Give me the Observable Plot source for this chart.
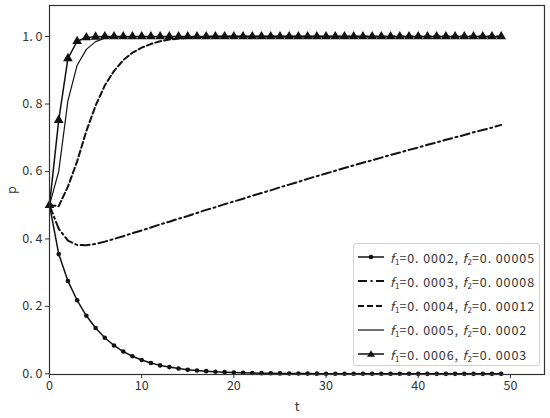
<!DOCTYPE html>
<html>
<head>
<meta charset="utf-8">
<script src="https://cdn.jsdelivr.net/npm/d3@7"></script>
<script src="https://cdn.jsdelivr.net/npm/@observablehq/plot@0.6"></script>
<style>
  html, body { margin: 0; padding: 0; background: #fff; }
  #wrap { position: relative; width: 550px; height: 418px; font-family: "Noto Sans CJK SC", "Noto Sans", sans-serif; }
  #legend { position: absolute; left: 353px; top: 243px; width: 187px; height: 123px; border: 1px solid #d0d0d0; border-radius: 3px; background: rgba(255,255,255,0.85); box-sizing: border-box; }
  .row { position: absolute; left: 0; height: 20px; display: flex; align-items: center; font-size: 12.5px; letter-spacing: 0.9px; color: #333; white-space: nowrap; }
  .row svg { margin-left: 3px; margin-right: 5px; }
  .row sub { font-size: 8px; vertical-align: -2px; letter-spacing: 0; }
</style>
</head>
<body>
<div id="wrap"></div>
<script>
const t = d3.range(50);

const labels = [
  ["0. 0002", "0. 00005"],
  ["0. 0003", "0. 00008"],
  ["0. 0004", "0. 00012"],
  ["0. 0005", "0. 0002"],
  ["0. 0006", "0. 0003"]
];

const s1 = [0.5, 0.355, 0.275, 0.218, 0.172, 0.136, 0.107, 0.084, 0.066, 0.052,
  0.041, 0.032, 0.025, 0.020, 0.016, 0.012, 0.010, 0.008, 0.006, 0.005,
  0.004, 0.003, 0.0025, 0.002, 0.0015, 0.0012, 0.001, 0.0008, 0.0006, 0.0005,
  0.0004, 0.0003, 0.0003, 0.0002, 0.0002, 0.0001, 0.0001, 0.0001, 0.0001, 0.0001,
  0, 0, 0, 0, 0, 0, 0, 0, 0, 0];

const s2 = [0.5, 0.43, 0.395, 0.382, 0.381, 0.385, 0.392, 0.400, 0.408, 0.417,
  0.425, 0.434, 0.443, 0.451, 0.460, 0.468, 0.477, 0.486, 0.494, 0.503,
  0.511, 0.519, 0.528, 0.536, 0.544, 0.553, 0.561, 0.569, 0.578, 0.586,
  0.594, 0.602, 0.610, 0.618, 0.626, 0.633, 0.641, 0.649, 0.656, 0.664,
  0.671, 0.679, 0.686, 0.694, 0.701, 0.708, 0.716, 0.723, 0.730, 0.738];

const s3 = [0.5, 0.497, 0.555, 0.63, 0.72, 0.795, 0.855, 0.898, 0.930, 0.952,
  0.967, 0.978, 0.986, 0.991, 0.994, 0.996, 0.998, 0.999, 1, 1,
  1, 1, 1, 1, 1, 1, 1, 1, 1, 1,
  1, 1, 1, 1, 1, 1, 1, 1, 1, 1,
  1, 1, 1, 1, 1, 1, 1, 1, 1, 1];

const s4 = [0.5, 0.6, 0.81, 0.915, 0.962, 0.985, 0.995, 0.998, 0.999, 1,
  1, 1, 1, 1, 1, 1, 1, 1, 1, 1,
  1, 1, 1, 1, 1, 1, 1, 1, 1, 1,
  1, 1, 1, 1, 1, 1, 1, 1, 1, 1,
  1, 1, 1, 1, 1, 1, 1, 1, 1, 1];

const s5 = [0.5, 0.752, 0.935, 0.986, 0.997, 0.999, 1, 1, 1, 1,
  1, 1, 1, 1, 1, 1, 1, 1, 1, 1,
  1, 1, 1, 1, 1, 1, 1, 1, 1, 1,
  1, 1, 1, 1, 1, 1, 1, 1, 1, 1,
  1, 1, 1, 1, 1, 1, 1, 1, 1, 1];

const xTicks = [0, 10, 20, 30, 40, 50];
const yTicks = [0, 0.2, 0.4, 0.6, 0.8, 1.0];

const mk = s => t.map((x, i) => ({t: x, p: s[i]}));
const d1 = mk(s1), d2 = mk(s2), d3v = mk(s3), d4 = mk(s4), d5 = mk(s5);

const styles = [
  {w: 1.5, dash: null, marker: "circle"},
  {w: 2, dash: "9,3.5,2,3.5", marker: null},
  {w: 2, dash: "6,3", marker: null},
  {w: 1.2, dash: null, marker: null},
  {w: 1.5, dash: null, marker: "triangle"}
];

const chart = Plot.plot({
  width: 550,
  height: 418,
  marginLeft: 49,
  marginRight: 6,
  marginTop: 5,
  marginBottom: 44,
  style: {fontFamily: '"Noto Sans CJK SC", "Noto Sans", sans-serif', fontSize: "12px", color: "#333", background: "#fff"},
  x: {domain: [0, 53.7]},
  y: {domain: [-0.002, 1.092]},
  marks: [
    Plot.line(d1, {x: "t", y: "p", stroke: "#111", strokeWidth: 1.5}),
    Plot.dot(d1, {x: "t", y: "p", r: 2.3, fill: "#111", stroke: null}),
    Plot.line(d2, {x: "t", y: "p", stroke: "#111", strokeWidth: 2, strokeDasharray: "9,3.5,2,3.5"}),
    Plot.line(d3v, {x: "t", y: "p", stroke: "#111", strokeWidth: 2, strokeDasharray: "6,3"}),
    Plot.line(d4, {x: "t", y: "p", stroke: "#111", strokeWidth: 1.2}),
    Plot.line(d5, {x: "t", y: "p", stroke: "#111", strokeWidth: 1.5}),
    Plot.dot(d5, {x: "t", y: "p", symbol: "triangle", r: 3.6, fill: "#111", stroke: null}),
    Plot.frame({stroke: "#333", strokeWidth: 1.2}),
    Plot.axisX(xTicks, {tickSize: 4, tickPadding: 3, fontSize: 12.5, stroke: "#333", fill: "#333",
      tickFormat: d => String(d),
      label: "t", labelAnchor: "center", labelArrow: "none", labelOffset: 36}),
    Plot.axisY(yTicks, {tickSize: 4, tickPadding: 3, fontSize: 12.5, stroke: "#333", fill: "#333",
      tickFormat: d => d3.format(".1f")(d).replace(".", ". "),
      label: "p", labelAnchor: "center", labelArrow: "none", labelOffset: 42})
  ]
});

const wrap = document.getElementById("wrap");
wrap.appendChild(chart);

const legend = document.createElement("div");
legend.id = "legend";
labels.forEach((lab, i) => {
  const st = styles[i];
  const row = document.createElement("div");
  row.className = "row";
  row.style.top = (3 + i * 24.3) + "px";
  let sample = `<svg width="28" height="10"><line x1="1" y1="5" x2="27" y2="5" stroke="#111" stroke-width="${st.w}" ${st.dash ? `stroke-dasharray="${st.dash}"` : ""}/>`;
  if (st.marker === "circle") sample += `<circle cx="14" cy="5" r="2.3" fill="#111"/>`;
  if (st.marker === "triangle") sample += `<path d="M14,1.3 L18,7.8 L10,7.8 Z" fill="#111"/>`;
  sample += `</svg>`;
  row.innerHTML = sample + `<span><i>f</i><sub>1</sub>=${lab[0]}, <i>f</i><sub>2</sub>=${lab[1]}</span>`;
  legend.appendChild(row);
});
wrap.appendChild(legend);
</script>
</body>
</html>
